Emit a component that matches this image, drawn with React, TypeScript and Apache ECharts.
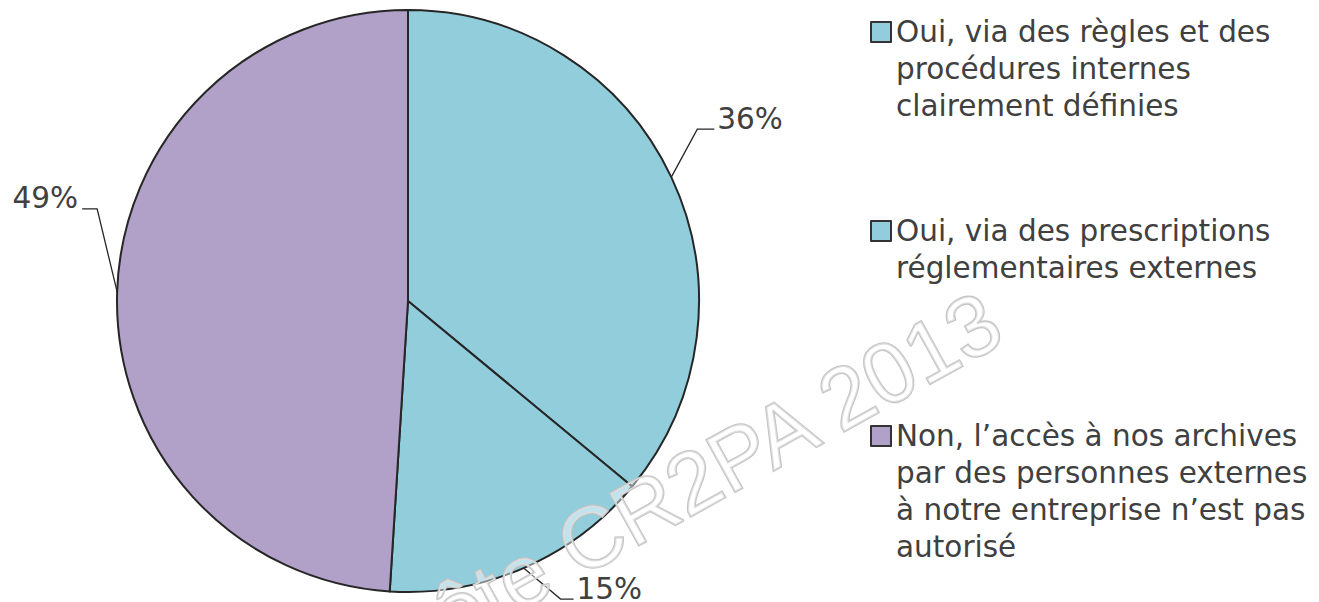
import React, { useEffect, useRef } from "react";
import * as echarts from "echarts";

// ---- data ----
const categories = [
  "Oui, via des règles et des\nprocédures internes\nclairement définies",
  "Oui, via des prescriptions\nréglementaires externes",
  "Non, l’accès à nos archives\npar des personnes externes\nà notre entreprise n’est pas\nautorisé",
];
const values = [36, 15, 49];
const colors = ["#92CDDC", "#92CDDC", "#B1A0C7"];
const watermarkText = "Enquête CR2PA 2013";

// ---- styles ----
const FONT = "'DejaVu Sans', Verdana, sans-serif";
const TEXT_COLOR = "#404040";
const FONT_SIZE = 29.5;
const LINE_H = 37;
const ICON_MIDS = [32, 231, 436];
const GUIDES = [
  { knee: [26, -48], tail: 17 },
  { knee: [37, 31], tail: 13 },
  { knee: [-20, -83], tail: -15 },
];

export default function App() {
  const ref = useRef<HTMLDivElement>(null);
  useEffect(() => {
    if (!ref.current) return;
    const chart = echarts.init(ref.current, undefined, { renderer: "svg" });
    const data = categories.map((name, i) => ({
      name,
      value: values[i],
      itemStyle: { color: colors[i] },
    }));
    const legends = categories.map((name, i) => {
      const lines = name.split("\n").length;
      return {
        show: true,
        orient: "vertical",
        left: 870,
        top: ICON_MIDS[i] - ((2 * lines - 1) * LINE_H) / 2,
        padding: 0,
        itemWidth: 20,
        itemHeight: 20,
        icon: "rect",
        selectedMode: false,
        data: [name],
        // pad with empty lines above so the first text line sits beside the marker
        formatter: (n: string) => "\n".repeat(lines - 1) + n,
        itemStyle: { borderColor: "#333333", borderWidth: 2 },
        textStyle: {
          fontFamily: FONT,
          fontSize: FONT_SIZE,
          color: TEXT_COLOR,
          lineHeight: LINE_H,
        },
      };
    });
    chart.setOption({
      animation: false,
      backgroundColor: "#ffffff",
      legend: legends,
      graphic: [
        {
          type: "text",
          x: 628,
          y: 517,
          rotation: (29 * Math.PI) / 180,
          z: 100,
          silent: true,
          style: {
            text: watermarkText,
            font: "86px 'Liberation Sans', Arial, sans-serif",
            fill: "rgba(255,255,255,0.45)",
            stroke: "#c4c4c4",
            lineWidth: 2.2,
            align: "center",
            verticalAlign: "middle",
          },
        },
      ],
      series: [
        {
          type: "pie",
          center: [408, 301],
          radius: 291,
          startAngle: 90,
          clockwise: true,
          avoidLabelOverlap: false,
          emphasis: { disabled: true },
          itemStyle: { borderColor: "#262626", borderWidth: 2 },
          label: {
            show: true,
            position: "outside",
            formatter: (p: any) => p.value + "%",
            fontFamily: FONT,
            fontSize: FONT_SIZE,
            color: TEXT_COLOR,
          },
          labelLine: {
            show: true,
            length: 20,
            length2: 15,
            lineStyle: { color: "#262626", width: 1.3 },
          },
          labelLayout: (params: any) => {
            const g = GUIDES[params.dataIndex];
            const pts = params.labelLinePoints;
            if (!g || !pts) return {};
            const p0 = pts[0];
            const knee = [p0[0] + g.knee[0], p0[1] + g.knee[1]];
            const end = [knee[0] + g.tail, knee[1]];
            const right = g.tail > 0;
            return {
              x: end[0] + (right ? 3 : -4),
              y: knee[1] - 10.5,
              align: right ? "left" : "right",
              verticalAlign: "middle",
              labelLinePoints: [p0, knee, end],
            };
          },
          data,
        },
      ],
    });
    return () => chart.dispose();
  }, []);
  return (
    <div
      ref={ref}
      style={{ position: "fixed", left: 0, top: 0, width: 1319, height: 602 }}
    />
  );
}
